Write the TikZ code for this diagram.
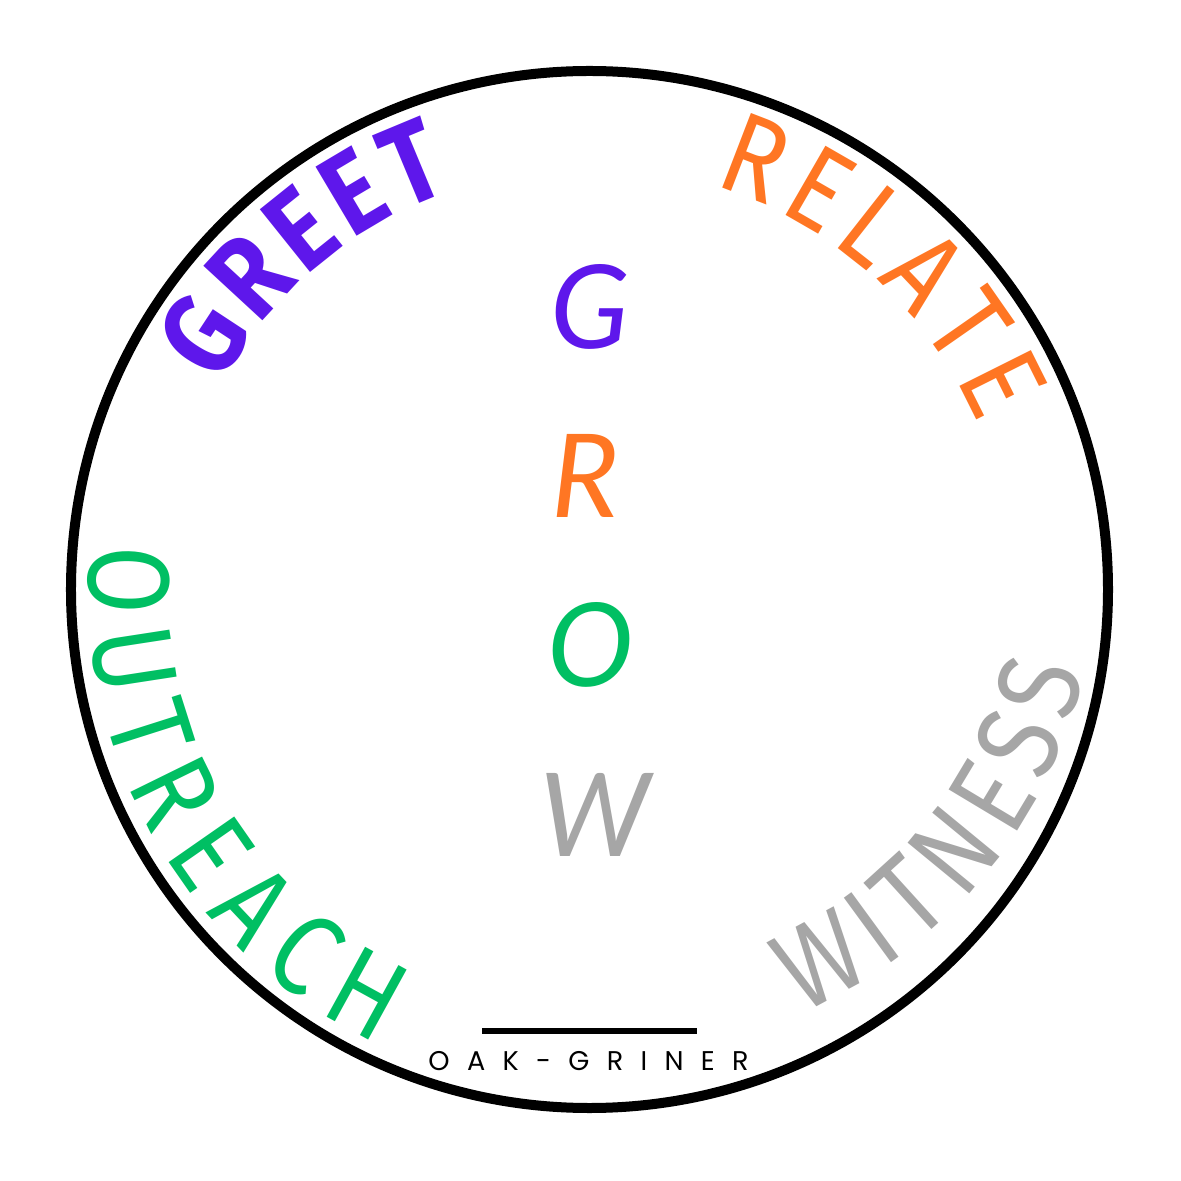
\documentclass[tikz,border=0pt]{standalone}
\usepackage{fontspec}
\usepackage{tikz}
\usetikzlibrary{decorations.text}

\newfontfamily\arcfont{Fira Sans}[FakeStretch=0.85]
\newfontfamily\growfont{Lato}
\newfontfamily\signfont{Poppins}[LetterSpace=64]
\newcommand\wordfont{\arcfont\fontsize{33}{33}\selectfont}

\definecolor{greetpurple}{HTML}{5E17EB}
\definecolor{relateorange}{HTML}{FF7623}
\definecolor{outreachgreen}{HTML}{00BF63}
\definecolor{witnessgray}{HTML}{A6A6A6}

\begin{document}
\begin{tikzpicture}[
        ring/.style={draw=black, line width=0.1cm},
        wordpath/.style={decorate, decoration={text along path, text align=fit to path}},
        growletter/.style={inner sep=0pt, font=\growfont\itshape\fontsize{33}{33}\selectfont},
        signrule/.style={draw=black, line width=0.06cm},
    ]
    \useasboundingbox (-5.895,-5.915) rectangle (5.915,5.895);

    % Outer ring
    \coordinate (hub) at (0,0);
    \draw[ring] (hub) circle[radius=5.185];

    % Words along the ring (top: clockwise, bottom: counter-clockwise)
    \path[wordpath, decoration={text={|\wordfont\bfseries\color{greetpurple}|GREET}}]
        (151:4.22) arc[start angle=151, end angle=109, radius=4.22];
    \path[wordpath, decoration={text={|\wordfont\color{relateorange}|RELATE}}]
        (73:4.22) arc[start angle=73, end angle=23, radius=4.22];
    \path[wordpath, decoration={text={|\wordfont\color{outreachgreen}|OUTREACH}}]
        (175:5.01) arc[start angle=175, end angle=245, radius=5.01];
    \path[wordpath, decoration={text={|\wordfont\color{witnessgray}|WITNESS}}]
        (0.18,0.24) ++(-66.5:4.88) arc[start angle=-66.5, end angle=-12.5, radius=4.88];

    % GROW down the middle
    \node[growletter, text=greetpurple]   (growG) at (0.005,2.825)  {G};
    \node[growletter, text=relateorange]  (growR) at (-0.045,1.135) {R};
    \node[growletter, text=outreachgreen] (growO) at (0.015,-0.555) {O};
    \node[growletter, text=witnessgray]   (growW) at (0.055,-2.255) {W};

    % Signature
    \draw[signrule] (-1.07,-4.415) -- (1.07,-4.415);
    \node[inner sep=0pt, font=\signfont\fontsize{7.7}{8}\selectfont] (signature) at (-0.01,-4.72) {OAK-GRINER};

\end{tikzpicture}
\end{document}
